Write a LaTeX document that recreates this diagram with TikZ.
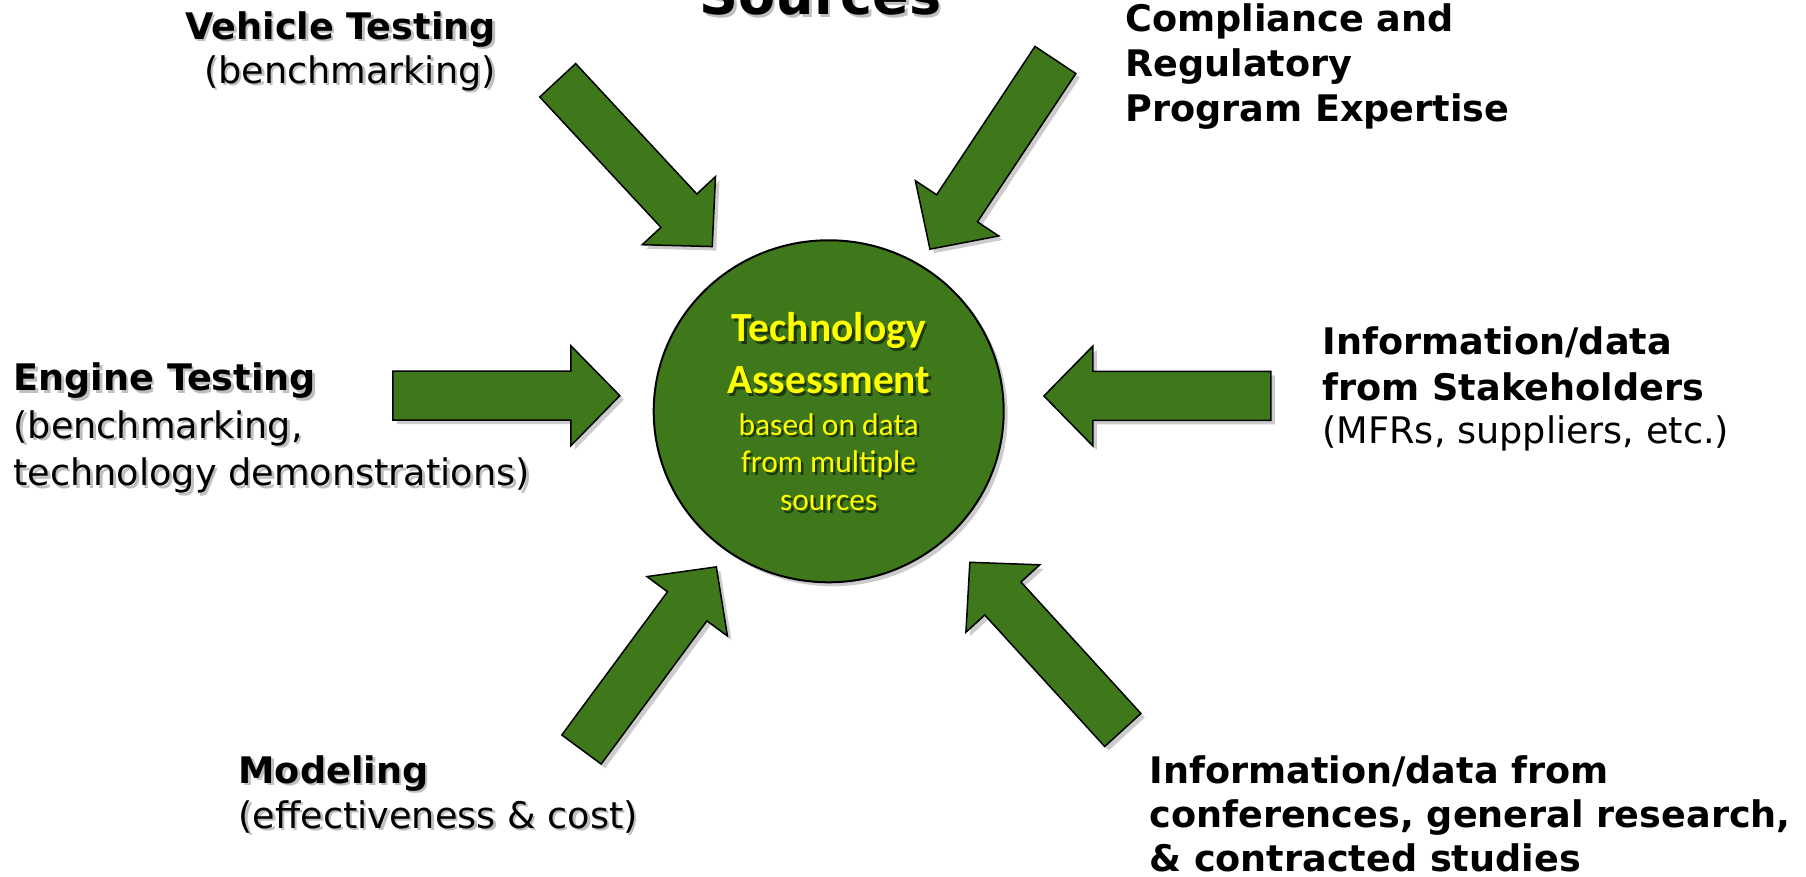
\documentclass[tikz,border=0pt]{standalone}
\usepackage{fontspec}
\setmainfont{DejaVu Sans}
\newfontfamily\calibfont{Carlito}
\usetikzlibrary{shapes.geometric}

\definecolor{techgreen}{RGB}{62,120,26}
\definecolor{techyellow}{RGB}{255,255,0}
\definecolor{techshade}{RGB}{28,56,10}

% text with a soft grey copy behind it
\newcommand\shd[2][black!25]{\makebox[0pt][l]{\kern2.5pt\raisebox{-2.5pt}{\textcolor{#1}{#2}}}#2}

\tikzset{
  srcarrow/.style={draw=black, line width=1.5pt, fill=techgreen},
  arrowshade/.style={fill=black, opacity=0.2},
  srclabel/.style={inner sep=0pt, font=\fontsize{36.6}{45}\selectfont}
}

\begin{document}
\begin{tikzpicture}[x=1pt,y=1pt]
\useasboundingbox (0,0) rectangle (1806,877);
\clip (0,0) rectangle (1806,877);

% arrows pointing at the centre
\foreach \x/\y/\a in {557.7/796.7/-47.1, 1055.4/817/-123.55, 392.8/481.3/0,
                      1270.9/481/180, 581.5/127.5/53.56, 1122.8/147/132.37}{
  \fill[arrowshade, shift={(\x+4,\y-4)}, rotate=\a]
    (0,-24.5) -- (178,-24.5) -- (178,-50) -- (227,0) -- (178,50) -- (178,24.5) -- (0,24.5) -- cycle;
  \draw[srcarrow, shift={(\x,\y)}, rotate=\a]
    (0,-24.5) -- (178,-24.5) -- (178,-50) -- (227,0) -- (178,50) -- (178,24.5) -- (0,24.5) -- cycle;
}

% centre
\fill[arrowshade] (832.7,461.7) ellipse (175 and 171);
\node[ellipse, draw=black, line width=2pt, fill=techgreen, minimum width=350pt,
      minimum height=342pt, inner sep=0pt] (tech) at (828.7,465.7) {};
\node[inner sep=0pt, align=center, anchor=base, text=techyellow,
      font=\calibfont\bfseries\fontsize{41.5}{52.3}\selectfont] (techtitle)
  at ([yshift=17.3pt]tech.center) {\shd[techshade]{Technology}\\ \shd[techshade]{Assessment}};
\node[inner sep=0pt, align=center, anchor=base, text=techyellow,
      font=\calibfont\fontsize{31.5}{37.7}\selectfont] (techsub)
  at ([yshift=-99.4pt]tech.center) {\shd[techshade]{based on data}\\ \shd[techshade]{from multiple}\\ \shd[techshade]{sources}};

% sources (anchors sit on the last line)
\node[inner sep=0pt, anchor=base, font=\bfseries\fontsize{54}{60}\selectfont] (title)
  at (820.5,862) {\shd{Sources}};
\node[srclabel, align=right, anchor=base east, font=\fontsize{36.6}{44}\selectfont] (vehicle)
  at (496,793.7) {\textbf{\shd{Vehicle Testing}}\\ \shd{(benchmarking)}};
\node[srclabel, align=left, anchor=base west] (compliance)
  at (1125,755.3) {\textbf{Compliance and}\\ \textbf{Regulatory}\\ \textbf{Program Expertise}};
\node[srclabel, align=left, anchor=base west, font=\fontsize{36.6}{47.5}\selectfont] (engine)
  at (13.4,391) {\textbf{\shd{Engine Testing}}\\ \shd{(benchmarking,}\\ \shd{technology demonstrations)}};
\node[srclabel, align=left, anchor=base west, font=\fontsize{36.6}{46}\selectfont] (stakeholders)
  at (1322.4,433) {\textbf{Information/data}\\ \textbf{from Stakeholders}\\[-3pt] (MFRs, suppliers, etc.)};
\node[srclabel, align=left, anchor=base west] (modeling)
  at (238.3,48.7) {\textbf{\shd{Modeling}}\\ \shd{(effectiveness \& cost)}};
\node[srclabel, align=left, anchor=base west, font=\fontsize{36.6}{44.2}\selectfont] (conferences)
  at (1149.2,5.3) {\textbf{Information/data from}\\ \textbf{conferences, general research,}\\ \textbf{\& contracted studies}};
\end{tikzpicture}
\end{document}
